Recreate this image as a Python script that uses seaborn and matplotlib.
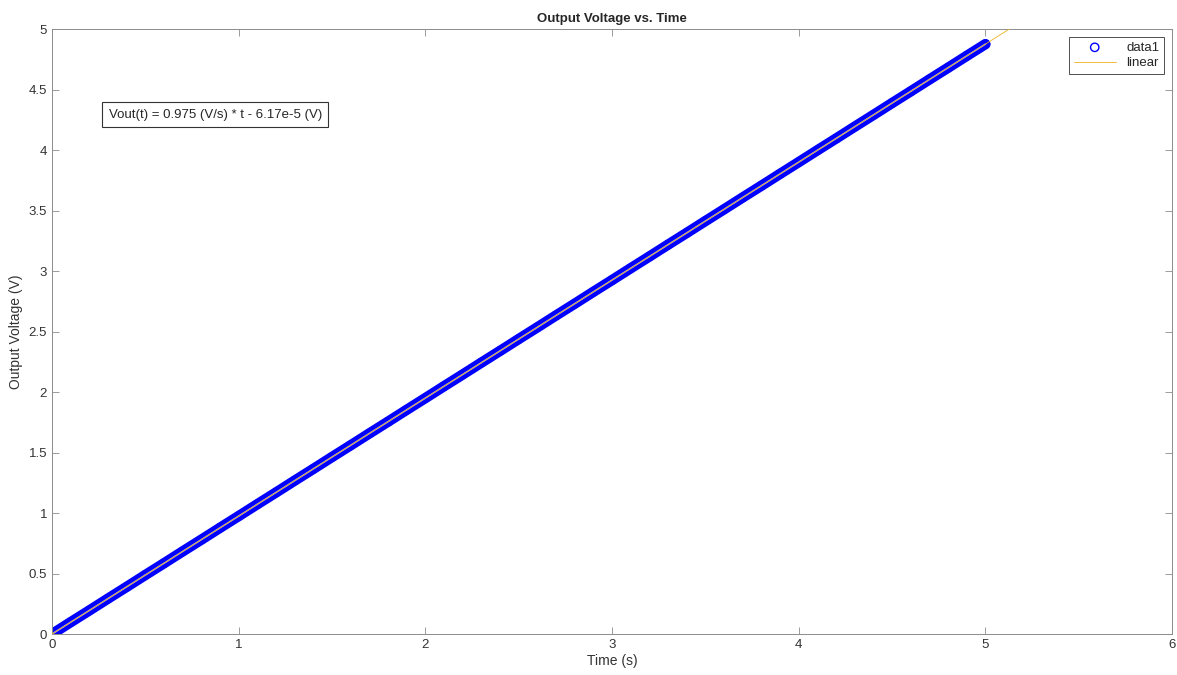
import matplotlib
matplotlib.use("Agg")
import matplotlib.pyplot as plt
import seaborn as sns

# Mätdata
time_s = [0.0, 0.1, 0.2, 0.3, 0.4, 0.5, 0.6, 0.7, 0.8, 0.9,
          1.0, 1.1, 1.2, 1.3, 1.4, 1.5, 1.6, 1.7, 1.8, 1.9,
          2.0, 2.1, 2.2, 2.3, 2.4, 2.5, 2.6, 2.7, 2.8, 2.9,
          3.0, 3.1, 3.2, 3.3, 3.4, 3.5, 3.6, 3.7, 3.8, 3.9,
          4.0, 4.1, 4.2, 4.3, 4.4, 4.5, 4.6, 4.7, 4.8, 4.9, 5.0]
vout = [0.000, 0.098, 0.195, 0.293, 0.390, 0.488, 0.585, 0.683, 0.780, 0.878,
        0.975, 1.073, 1.170, 1.268, 1.365, 1.463, 1.560, 1.658, 1.755, 1.853,
        1.950, 2.048, 2.145, 2.243, 2.340, 2.438, 2.535, 2.633, 2.730, 2.828,
        2.925, 3.023, 3.120, 3.218, 3.315, 3.413, 3.510, 3.608, 3.705, 3.803,
        3.900, 3.998, 4.095, 4.193, 4.290, 4.388, 4.485, 4.583, 4.680, 4.778, 4.875]

# Linjär anpassning (ändpunkter)
fit_t = [0.0, 5.2]
fit_v = [-6.17e-5, 5.07]

x_ticks = [0, 1, 2, 3, 4, 5, 6]
y_ticks = [0, 0.5, 1, 1.5, 2, 2.5, 3, 3.5, 4, 4.5, 5]
y_labels = ["0", "0.5", "1", "1.5", "2", "2.5", "3", "3.5", "4", "4.5", "5"]

sns.set_style("ticks")
plt.rcParams["font.family"] = ["Liberation Sans", "DejaVu Sans"]
plt.rcParams["xtick.direction"] = "in"
plt.rcParams["ytick.direction"] = "in"

fig = plt.figure(figsize=(11.77, 6.75), dpi=100)
ax = fig.add_axes([0.0442, 0.0607, 0.9516, 0.8963])

# tjockt band av överlappande cirklar (ihåliga -> ljus mitt)
sns.lineplot(x=time_s, y=vout, ax=ax, color="#0000ff", linewidth=7.5,
             legend=False, solid_capstyle="round", sort=False)
sns.lineplot(x=time_s, y=vout, ax=ax, color="#9090ff", linewidth=1.2,
             legend=False, sort=False)
sns.scatterplot(x=time_s, y=vout, ax=ax, marker="o", s=36,
                facecolors="none", edgecolor="#0000ff", linewidth=1,
                label="data1", zorder=1)
sns.lineplot(x=fit_t, y=fit_v, ax=ax, color="#EDB120", linewidth=0.6,
             label="linear", sort=False)
ax.lines[-1].set_zorder(4)

ax.set_xlim(0, 6)
ax.set_ylim(0, 5)
ax.set_xticks(x_ticks)
ax.set_yticks(y_ticks)
ax.set_yticklabels(y_labels)
ax.tick_params(labelsize=9.5, colors="#8c8c8c", labelcolor="#333333",
               length=5, width=0.6, top=True, right=True)
for sp in ax.spines.values():
    sp.set_visible(True)
    sp.set_color("#8c8c8c")
    sp.set_linewidth(0.7)

ax.set_title("Output Voltage vs. Time", fontsize=9.5, fontweight="bold", pad=5)
ax.set_xlabel("Time (s)", fontsize=10, labelpad=2, color="#333333")
ax.set_ylabel("Output Voltage (V)", fontsize=10, labelpad=4, color="#333333")

ax.text(0.0505, 0.868, "Vout(t) = 0.975 (V/s) * t - 6.17e-5 (V)",
        transform=ax.transAxes, fontsize=9.5, va="top", ha="left",
        bbox=dict(boxstyle="square,pad=0.5", fc="white", ec="#333333", lw=0.8))

leg = ax.legend(loc="upper right", fontsize=9.5, frameon=True, fancybox=False,
                edgecolor="#333333", framealpha=1, borderaxespad=0.6,
                handlelength=3.2, labelspacing=0.25, borderpad=0.35,
                handletextpad=0.8)
leg.get_frame().set_linewidth(0.6)

fig.savefig("out.png", dpi=100)
